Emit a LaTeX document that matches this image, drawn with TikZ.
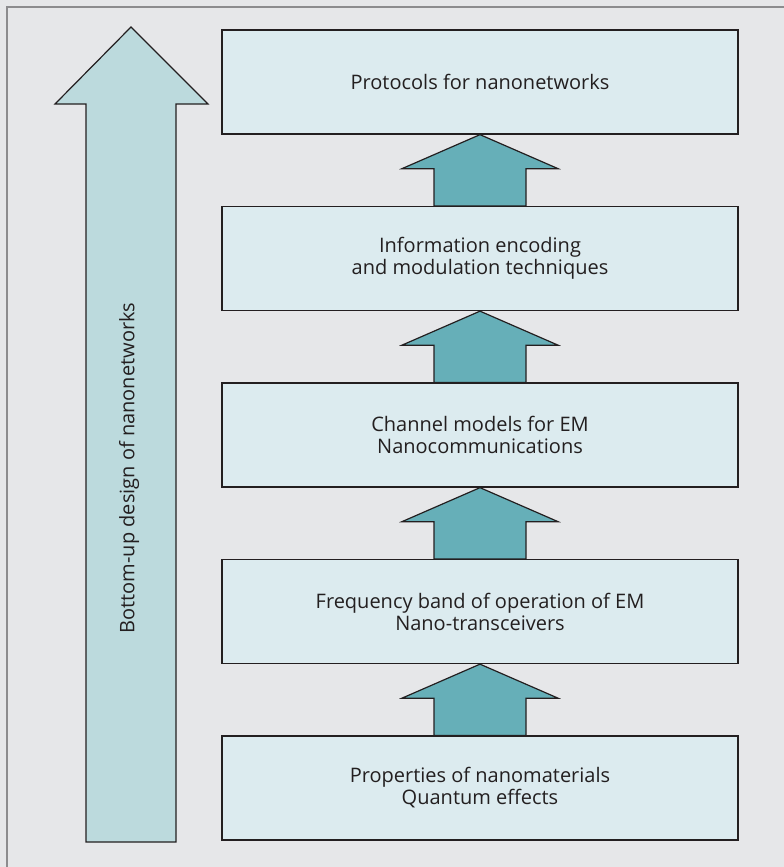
\documentclass[tikz,border=0pt]{standalone}
\usepackage{fontspec}
\setmainfont{Open Sans}
\usetikzlibrary{calc}
\definecolor{bg}{HTML}{E6E7E9}
\definecolor{frame}{HTML}{8C8C8E}
\definecolor{boxfill}{HTML}{DCEBEF}
\definecolor{bigfill}{HTML}{BCDADD}
\definecolor{smallfill}{HTML}{66AFB8}
\definecolor{ink}{HTML}{231F20}
\begin{document}
\begin{tikzpicture}[x=1pt,y=-1pt,
  layerbox/.style={draw=ink,line width=1.3pt,fill=boxfill,minimum width=516pt,minimum height=104pt,
    inner sep=0pt,align=center,font=\fontsize{20}{22}\selectfont,text=ink},
  uparrow/.style={draw=ink,line width=1.2pt,fill=smallfill,line join=miter},
  bigarrow/.style={draw=ink,line width=1.2pt,fill=bigfill,line join=miter}]
\useasboundingbox (0,0) rectangle (784,867);
\fill[bg] (0,0) rectangle (784,867);
\draw[frame,line width=2pt] (7,867) -- (7,7) -- (784,7);
% big arrow
\draw[bigarrow] (131,27) -- (208,104) -- (176,104) -- (176,842) -- (86,842) -- (86,104) -- (55,104) -- cycle;
\node[rotate=90,font=\fontsize{20}{22}\selectfont,text=ink] (bottomup) at (129,468) {Bottom-up design of nanonetworks};
% boxes
\node[layerbox] (proto) at (480,82) {Protocols for nanonetworks};
\node[layerbox] (info) at (480,258.5) {Information encoding\\and modulation techniques};
\node[layerbox] (chan) at (480,435) {Channel models for EM\\Nanocommunications};
\node[layerbox] (freq) at (480,611.5) {Frequency band of operation of EM\\Nano-transceivers};
\node[layerbox] (prop) at (480,788) {Properties of nanomaterials\\Quantum effects};
% small arrows
\foreach \lo/\hi in {info/proto,chan/info,freq/chan,prop/freq}{
  \draw[uparrow] (\hi.south) -- ($(\hi.south)+(78,34)$) -- ($(\hi.south)+(46,34)$)
    -- ($(\lo.north)+(46,0)$) -- ($(\lo.north)+(-46,0)$) -- ($(\hi.south)+(-46,34)$)
    -- ($(\hi.south)+(-78,34)$) -- cycle;
}
\end{tikzpicture}
\end{document}
